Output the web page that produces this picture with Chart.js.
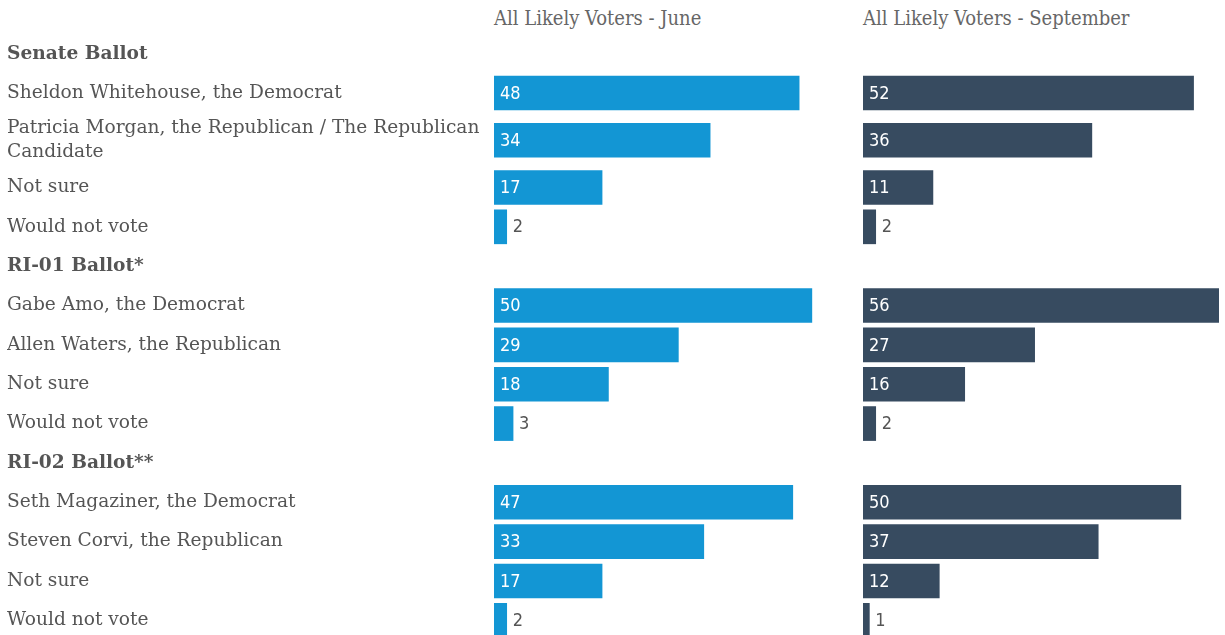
<!DOCTYPE html>
<html>
<head>
<meta charset="utf-8">
<script src="https://cdn.jsdelivr.net/npm/chart.js@4"></script>
<style>
  html, body { margin: 0; padding: 0; background: #fff; overflow: hidden; }
  #wrap { position: relative; width: 1225px; height: 635px; }
  .head { position: absolute; top: 6px; font-family: "DejaVu Serif Condensed", "DejaVu Serif", serif; font-size: 20px; color: #666; }
  #c1 { position: absolute; left: 0; top: 0; }
  #c2 { position: absolute; left: 857px; top: 0; }
</style>
</head>
<body>
<div id="wrap">
  <div class="head" style="left:494px">All Likely Voters - June</div>
  <div class="head" style="left:863px">All Likely Voters - September</div>
  <canvas id="c1" width="852" height="645"></canvas>
  <canvas id="c2" width="368" height="645"></canvas>
</div>
<script>
// Libellés des lignes (les titres de section sont en gras)
const categories = [
  "Senate Ballot",
  "Sheldon Whitehouse, the Democrat",
  ["Patricia Morgan, the Republican / The Republican", "Candidate"],
  "Not sure",
  "Would not vote",
  "RI-01 Ballot*",
  "Gabe Amo, the Democrat",
  "Allen Waters, the Republican",
  "Not sure",
  "Would not vote",
  "RI-02 Ballot**",
  "Seth Magaziner, the Democrat",
  "Steven Corvi, the Republican",
  "Not sure",
  "Would not vote",
];
const headerRows = [true, false, false, false, false, true, false, false, false, false, true, false, false, false, false];

const juneValues = [null, 48, 34, 17, 2, null, 50, 29, 18, 3, null, 47, 33, 17, 2];
const septValues = [null, 52, 36, 11, 2, null, 56, 27, 16, 2, null, 50, 37, 12, 1];

const juneColor = "#1396d4";
const septColor = "#374b60";
const textColor = "#555";

// Position de chaque ligne : une ligne de texte = 1, chaque ligne en plus = 0.4
const rowCenters = [];
let acc = 0;
categories.forEach((c) => {
  const h = Array.isArray(c) ? 1 + 0.4 * (c.length - 1) : 1;
  rowCenters.push(acc + h / 2);
  acc += h;
});
const totalRows = acc;
const xMax = Math.max(...juneValues, ...septValues);

const rowIndex = (v) => rowCenters.findIndex((p) => Math.abs(p - v) < 1e-6);

// Étiquettes de valeur dans / à côté des barres
const valueLabels = {
  id: "valueLabels",
  afterDatasetsDraw(chart) {
    const ctx = chart.ctx;
    const meta = chart.getDatasetMeta(0);
    const ds = chart.data.datasets[0];
    ctx.save();
    ctx.font = "18px 'DejaVu Sans Condensed', 'DejaVu Sans', sans-serif";
    ctx.textBaseline = "middle";
    ctx.textAlign = "left";
    meta.data.forEach((bar, i) => {
      const v = ds.data[i].x;
      if (v === null) return;
      if (v >= 5) {
        ctx.fillStyle = "#fff";
        ctx.fillText(v, bar.base + 6, bar.y + 1);
      } else {
        ctx.fillStyle = textColor;
        ctx.fillText(v, bar.x + 6, bar.y + 1);
      }
    });
    ctx.restore();
  },
};

const makeChart = (canvasId, values, color, showLabels, padding) => {
  new Chart(document.getElementById(canvasId), {
    type: "bar",
    data: {
      datasets: [
        {
          data: values.map((v, i) => ({ x: v, y: rowCenters[i] })),
          backgroundColor: color,
          borderWidth: 0,
          barThickness: 34,
        },
      ],
    },
    options: {
      indexAxis: "y",
      responsive: false,
      animation: false,
      layout: { padding },
      plugins: { legend: { display: false }, tooltip: { enabled: false } },
      scales: {
        x: {
          display: false,
          min: 0,
          max: xMax,
        },
        y: {
          type: "linear",
          display: showLabels,
          reverse: true,
          offset: false,
          min: 0,
          max: totalRows,
          grid: { display: false },
          border: { display: false },
          afterBuildTicks: (scale) => {
            scale.ticks = rowCenters.map((v) => ({ value: v }));
          },
          afterFit: (scale) => {
            if (showLabels) scale.width = 487;
            scale.paddingTop = 0;
            scale.paddingBottom = 0;
          },
          ticks: {
            autoSkip: false,
            crossAlign: "far",
            padding: 0,
            color: textColor,
            font: (ctx) => ({
              family: "'DejaVu Serif', serif",
              size: 18.6,
              lineHeight: 1.3,
              weight: ctx.tick && headerRows[rowIndex(ctx.tick.value)] ? "bold" : "normal",
            }),
            callback: (value) => categories[rowIndex(value)],
          },
        },
      },
    },
    plugins: [valueLabels],
  });
};

makeChart("c1", juneValues, juneColor, true, { left: 7, right: 2, top: 34, bottom: 5 });
makeChart("c2", septValues, septColor, false, { left: 6, right: 6, top: 34, bottom: 5 });
</script>
</body>
</html>
